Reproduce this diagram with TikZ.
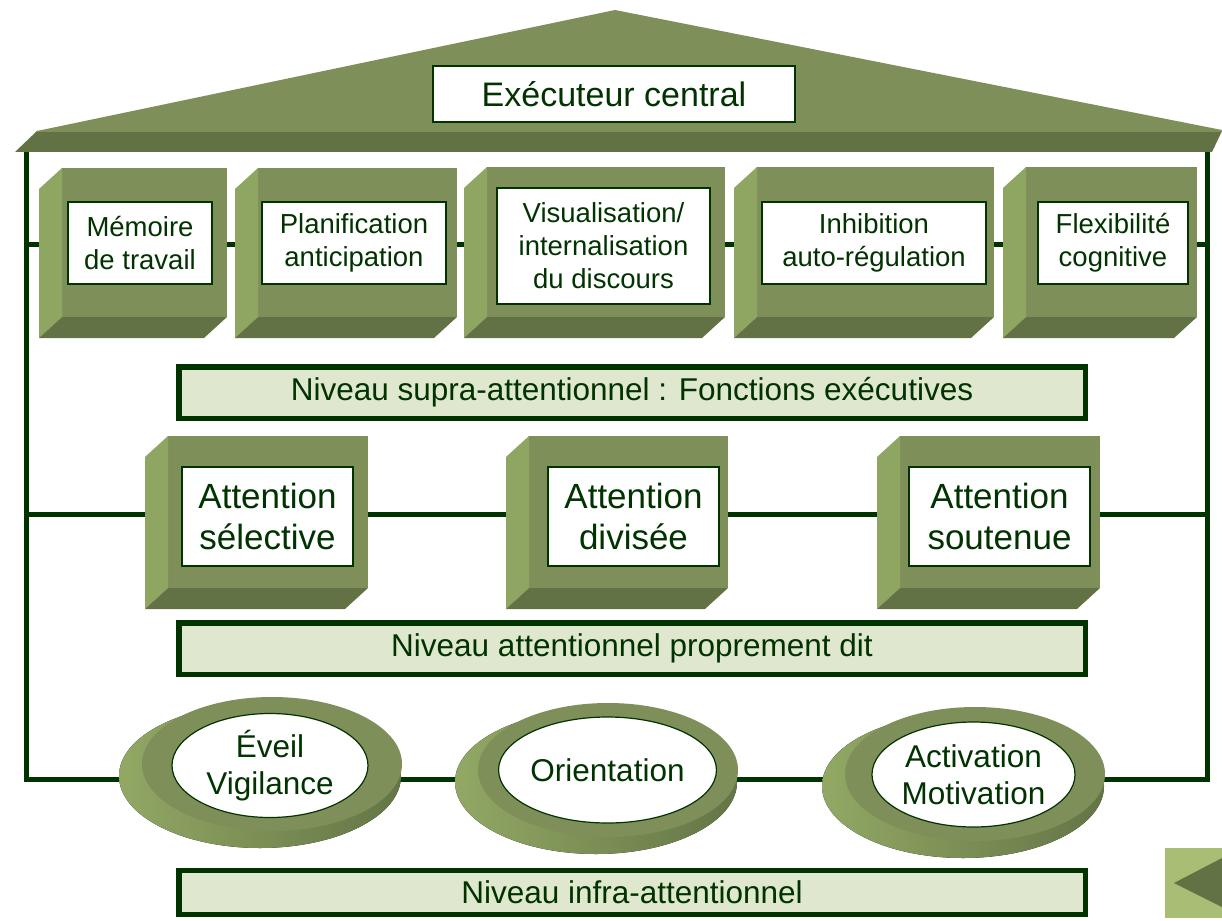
\documentclass[tikz,border=0pt]{standalone}
\usepackage{fontspec}
\setmainfont{Liberation Sans}
\usetikzlibrary{shapes.geometric}
\definecolor{gmain}{RGB}{127,143,89}
\definecolor{glight}{RGB}{143,165,98}
\definecolor{gdark}{RGB}{98,114,69}
\definecolor{lnc}{RGB}{0,51,0}
\definecolor{txtc}{RGB}{0,51,0}
\definecolor{lblfill}{RGB}{223,231,206}
\definecolor{btnfill}{RGB}{168,190,117}
\definecolor{shlight}{RGB}{146,168,100}
\definecolor{shdark}{RGB}{100,117,70}
\newcommand\bevelbox[4]{%
  \fill[gmain] (#1,#2) rectangle (#3,#4);
  \fill[glight] (#1-23,#2+21) -- (#1,#2) -- (#1,#4) -- (#1-23,#4+21) -- cycle;
  \fill[gdark] (#1,#4) -- (#3,#4) -- (#3-23,#4+21) -- (#1-23,#4+21) -- cycle;
}
\newcommand\discshape[2]{%
  \fill[left color=shlight, right color=shdark] (#1-12,#2+12) ellipse [x radius=141pt, y radius=72pt];
  \fill[gmain] (#1,#2) ellipse [x radius=130pt, y radius=67pt];
}
\begin{document}
\begin{tikzpicture}[x=1pt,y=-1pt,
  conn/.style={draw=lnc,line width=5pt},
  whitebox/.style={draw=lnc,line width=1.5pt,fill=white,text=txtc,align=center,inner sep=0pt},
  toptxt/.style={whitebox,minimum height=82pt,font=\fontsize{27.5}{33}\selectfont},
  midtxt/.style={whitebox,minimum height=99pt,font=\fontsize{35}{41}\selectfont},
  ovaltxt/.style={ellipse,draw=lnc,line width=1.2pt,fill=white,text=txtc,align=center,inner sep=0pt,font=\fontsize{31.5}{37}\selectfont},
  levelbar/.style={draw=lnc,line width=5.5pt,fill=lblfill,text=txtc,inner sep=0pt,minimum width=906.5pt,font=\fontsize{31.5}{37}\selectfont},
]
\useasboundingbox (0,0) rectangle (1222,920);
\fill[white] (0,0) rectangle (1222,920);

% frame and connectors
\coordinate (fTL) at (26,150);
\coordinate (fBL) at (26,779);
\coordinate (fBR) at (1207,779);
\coordinate (fTR) at (1207,150);
\draw[conn,line join=miter] (fTL) -- (fBL) -- (fBR) -- (fTR);
\coordinate (r1L) at (26,244);
\coordinate (r1R) at (1207,244);
\draw[conn] (r1L) -- (r1R);
\coordinate (r2L) at (26,514);
\coordinate (r2R) at (1207,514);
\draw[conn] (r2L) -- (r2R);

% roof
\fill[gdark] (15,152) -- (37,131) -- (1222,131) -- (1212,152) -- cycle;
\fill[gmain] (37,131) -- (615,10) -- (1222,130) -- (1221,132) -- (36,132) -- cycle;
\node[whitebox,font=\fontsize{34}{40}\selectfont,minimum width=362pt,minimum height=56pt] (exec) at (614,94) {Exécuteur central};

% top row
\bevelbox{62}{168}{227}{317}
\bevelbox{258}{168}{457}{317}
\bevelbox{487}{167}{725}{317}
\bevelbox{757}{167}{994}{317}
\bevelbox{1026}{167}{1197}{317}
\node[toptxt,minimum width=144pt] (f1) at (140,243) {Mémoire\\de travail};
\node[toptxt,minimum width=184pt] (f2) at (354,243) {Planification\\anticipation};
\node[whitebox,minimum width=213pt,minimum height=116pt,font=\fontsize{27.5}{33}\selectfont] (f3) at (603.5,246) {Visualisation/\\internalisation\\du discours};
\node[toptxt,minimum width=224pt] (f4) at (874,243) {Inhibition\\auto-régulation};
\node[toptxt,minimum width=150pt] (f5) at (1113,243) {Flexibilité\\cognitive};
\node[levelbar,minimum height=51.5pt] (lvl1) at (632,392.5) {Niveau supra-attentionnel : Fonctions exécutives};

% middle row
\bevelbox{168}{436}{368}{588}
\bevelbox{529}{436}{728}{588}
\bevelbox{900}{436}{1100}{588}
\node[midtxt,minimum width=171pt] (a1) at (267.5,516.5) {Attention\\sélective};
\node[midtxt,minimum width=171pt] (a2) at (633.5,516.5) {Attention\\divisée};
\node[midtxt,minimum width=181pt] (a3) at (999.5,516.5) {Attention\\soutenue};
\node[levelbar,minimum height=51.5pt] (lvl2) at (632,648.5) {Niveau attentionnel proprement dit};

% bottom row
\discshape{272}{764}
\discshape{608}{770}
\discshape{975}{774}
\node[ovaltxt,minimum width=196pt,minimum height=104pt] (e1) at (270,765.5) {Éveil\\Vigilance};
\node[ovaltxt,minimum width=195pt,minimum height=106pt] (e2) at (607.5,770) {Orientation};
\node[ovaltxt,minimum width=197pt,minimum height=105pt] (e3) at (973.5,774.5) {Activation\\Motivation};
\node[levelbar,minimum height=44pt] (lvl3) at (632,892.5) {Niveau infra-attentionnel};

% navigation button
\fill[btnfill] (1165,848) rectangle (1222,918);
\fill[gdark] (1174,883) -- (1222,858) -- (1222,907) -- cycle;
\end{tikzpicture}
\end{document}
